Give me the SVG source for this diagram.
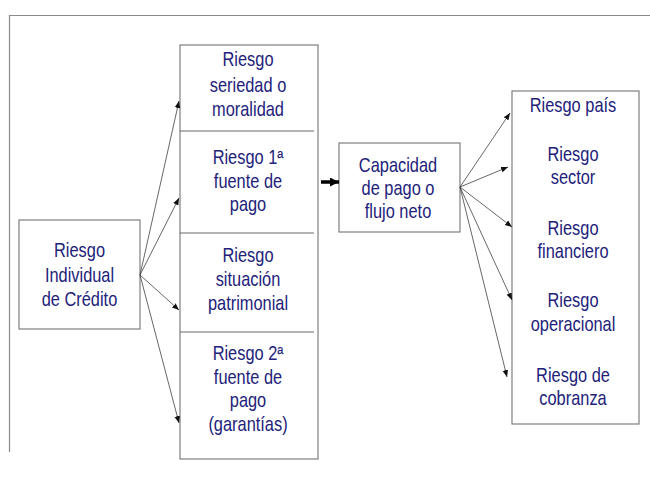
<svg xmlns="http://www.w3.org/2000/svg" width="650" height="479" viewBox="0 0 650 479">
  <style>
    .box { fill: #ffffff; stroke: #7f7f7f; stroke-width: 1.2; }
    .div { stroke: #6a6a6a; stroke-width: 1.2; }
    .frame { stroke: #8a8a8a; stroke-width: 1.2; fill: none; }
    .lbl { font-family: "Liberation Sans", Arial, sans-serif; font-size: 20px; fill: #22227a; text-anchor: middle; }
    .edge { stroke: #404040; stroke-width: 0.8; fill: none; marker-end: url(#ah); }
  </style>
  <defs>
    <marker id="ah" viewBox="0 0 10 10" refX="10" refY="5" markerWidth="7" markerHeight="7" markerUnits="userSpaceOnUse" orient="auto">
      <path d="M0,1 L10,5 L0,9 Z" fill="#111"/>
    </marker>
    <marker id="ahBold" viewBox="0 0 10 10" refX="10" refY="5" markerWidth="9" markerHeight="9" markerUnits="userSpaceOnUse" orient="auto">
      <path d="M0,0 L10,5 L0,10 Z" fill="#000"/>
    </marker>
  </defs>

  <rect width="650" height="479" fill="#ffffff"/>
  <!-- page frame -->
  <path class="frame" d="M9.5,452 V15.5 H650"/>

  <g id="riesgo-individual">
    <rect class="box" x="19" y="220" width="121" height="109"/>
    <g transform="translate(79.5 0) scale(0.82 1)">
      <text class="lbl" x="0" y="257">Riesgo</text>
      <text class="lbl" x="0" y="282">Individual</text>
      <text class="lbl" x="0" y="306">de Crédito</text>
    </g>
  </g>

  <g id="riesgos-deudor">
    <rect class="box" x="180" y="45" width="138" height="414"/>
    <line class="div" x1="180" y1="131" x2="314" y2="131"/>
    <line class="div" x1="180" y1="233" x2="314" y2="233"/>
    <line class="div" x1="180" y1="332" x2="314" y2="332"/>
  </g>
  <g id="seriedad" transform="translate(248 0) scale(0.82 1)">
    <text class="lbl" x="0" y="66">Riesgo</text>
    <text class="lbl" x="0" y="92">seriedad o</text>
    <text class="lbl" x="0" y="116">moralidad</text>
  </g>
  <g id="fuente-1" transform="translate(248 0) scale(0.82 1)">
    <text class="lbl" x="0" y="164">Riesgo 1ª</text>
    <text class="lbl" x="0" y="188">fuente de</text>
    <text class="lbl" x="0" y="211">pago</text>
  </g>
  <g id="patrimonial" transform="translate(248 0) scale(0.82 1)">
    <text class="lbl" x="0" y="262">Riesgo</text>
    <text class="lbl" x="0" y="286">situación</text>
    <text class="lbl" x="0" y="310">patrimonial</text>
  </g>
  <g id="fuente-2" transform="translate(248 0) scale(0.82 1)">
    <text class="lbl" x="0" y="360">Riesgo 2ª</text>
    <text class="lbl" x="0" y="384">fuente de</text>
    <text class="lbl" x="0" y="407">pago</text>
    <text class="lbl" x="0" y="431">(garantías)</text>
  </g>

  <g id="capacidad">
    <rect class="box" x="339" y="143" width="121" height="89"/>
    <g transform="translate(398 0) scale(0.82 1)">
      <text class="lbl" x="0" y="172">Capacidad</text>
      <text class="lbl" x="0" y="195">de pago o</text>
      <text class="lbl" x="0" y="218">flujo neto</text>
    </g>
  </g>

  <g id="riesgos-entorno">
    <rect class="box" x="512" y="91" width="127" height="333"/>
    <g transform="translate(573 0) scale(0.82 1)">
      <text class="lbl" x="0" y="112">Riesgo país</text>
      <text class="lbl" x="0" y="161">Riesgo</text>
      <text class="lbl" x="0" y="184">sector</text>
      <text class="lbl" x="0" y="235">Riesgo</text>
      <text class="lbl" x="0" y="258">financiero</text>
      <text class="lbl" x="0" y="307">Riesgo</text>
      <text class="lbl" x="0" y="331">operacional</text>
      <text class="lbl" x="0" y="382">Riesgo de</text>
      <text class="lbl" x="0" y="405">cobranza</text>
    </g>
  </g>

  <g id="connectors">
    <!-- fan from the individual credit risk box -->
    <line class="edge" x1="140" y1="275" x2="179" y2="101"/>
    <line class="edge" x1="140" y1="275" x2="179" y2="198"/>
    <line class="edge" x1="140" y1="275" x2="179" y2="310"/>
    <line class="edge" x1="140" y1="275" x2="179" y2="423"/>
    <!-- bold link into repayment capacity -->
    <line x1="321" y1="182" x2="339" y2="182" stroke="#000" stroke-width="3.5" marker-end="url(#ahBold)"/>
    <!-- fan from repayment capacity -->
    <line class="edge" x1="460" y1="187" x2="510" y2="113"/>
    <line class="edge" x1="460" y1="187" x2="508" y2="167"/>
    <line class="edge" x1="460" y1="187" x2="512" y2="227"/>
    <line class="edge" x1="460" y1="187" x2="512" y2="300"/>
    <line class="edge" x1="460" y1="187" x2="507" y2="377"/>
  </g>
</svg>
